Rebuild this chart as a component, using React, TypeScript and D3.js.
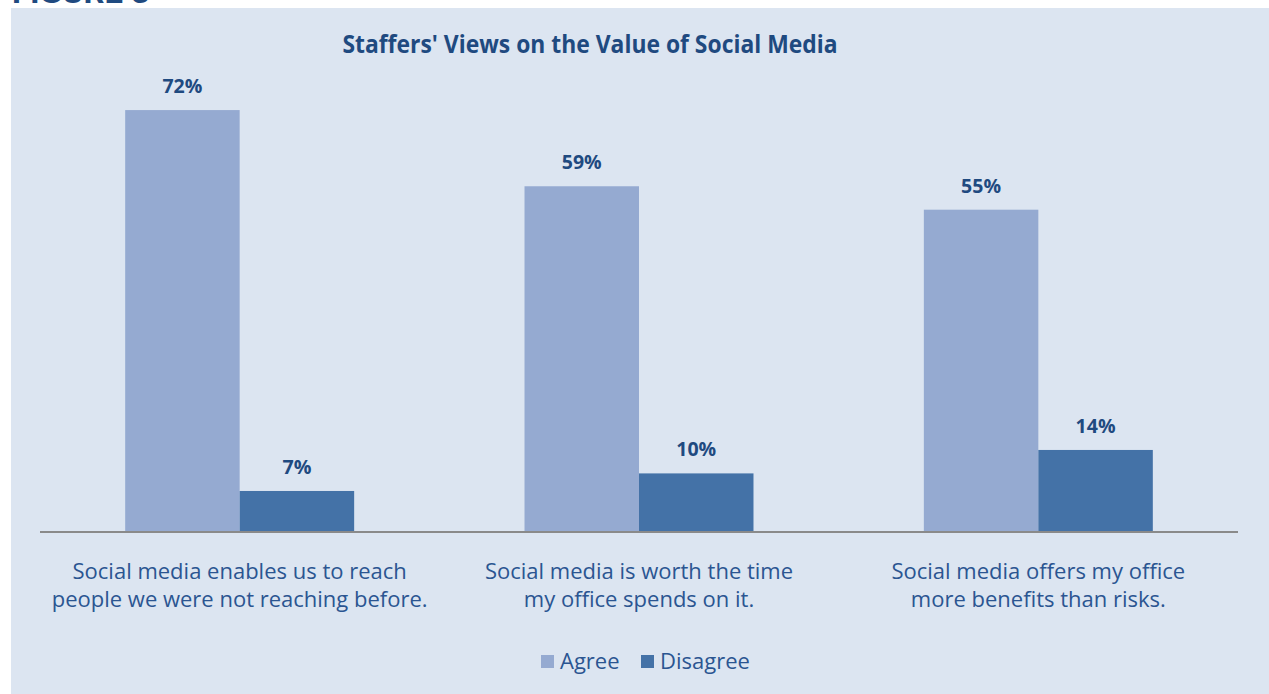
import React from "react";
import * as d3 from "d3";

const categories = [
  ["Social media enables us to reach", "people we were not reaching before."],
  ["Social media is worth the time", "my office spends on it."],
  ["Social media offers my office", "more benefits than risks."],
];
const seriesNames = ["Agree", "Disagree"];
const agreeValues = [72, 59, 55];
const disagreeValues = [7, 10, 14];
const title = "Staffers' Views on the Value of Social Media";

const W = 1269;
const H = 694;
const colors = ["#95aad1", "#4472a7"];
const textColor = "#1f4a80";
const labelColor = "#2b5591";

export default function App() {
  const x0 = d3.scaleBand<number>().domain([0, 1, 2]).range([40, 1238]).paddingInner(0).paddingOuter(0);
  const x1 = d3
    .scaleBand<number>()
    .domain([0, 1])
    .range([0, x0.bandwidth()])
    .paddingOuter(0.744)
    .paddingInner(0);
  const y = d3.scaleLinear().domain([0, 80]).range([532, 532 - 80 * 5.86]);
  const series = [agreeValues, disagreeValues];

  return (
    <svg
      width={W}
      height={H}
      style={{ position: "absolute", left: 0, top: 0, display: "block" }}
    >
      <rect x={0} y={0} width={W} height={H} fill="#ffffff" />
      <text
        x={12}
        y={3}
        fontFamily="Roboto, 'Noto Sans', sans-serif"
        fontWeight={700}
        fontSize={30}
        fill="#1f4a80"
        textLength={138}
        lengthAdjust="spacingAndGlyphs"
      >
        FIGURE 3
      </text>
      <rect x={11} y={8} width={W - 11} height={H - 8} fill="#dce5f1" />
      <text
        x={590}
        y={53}
        textAnchor="middle"
        fontFamily="'Open Sans', 'Noto Sans', sans-serif"
        fontWeight={700}
        fontSize={25}
        fill={textColor}
        textLength={495}
        lengthAdjust="spacingAndGlyphs"
      >
        {title}
      </text>
      {categories.map((cat, ci) =>
        series.map((vals, si) => {
          const bx = (x0(ci) ?? 0) + (x1(si) ?? 0);
          const bw = x1.bandwidth();
          const v = vals[ci];
          return (
            <g key={`${ci}-${si}`}>
              <rect x={bx} y={y(v)} width={bw} height={y(0) - y(v)} fill={colors[si]} />
              <text
                x={bx + bw / 2}
                y={y(v) - 17}
                textAnchor="middle"
                fontFamily="'Open Sans', 'Noto Sans', sans-serif"
                fontWeight={700}
                fontSize={20}
                fill={textColor}
                textLength={v >= 10 ? 40 : 29}
                lengthAdjust="spacingAndGlyphs"
              >
                {v}%
              </text>
            </g>
          );
        })
      )}
      <line x1={40} x2={1238} y1={532} y2={532} stroke="#8a8a8a" strokeWidth={2} />
      {categories.map((lines, ci) => {
        const cx = (x0(ci) ?? 0) + x0.bandwidth() / 2;
        return (
          <text
            key={ci}
            textAnchor="middle"
            fontFamily="'Open Sans', 'Noto Sans', sans-serif"
            fontWeight={400}
            fontSize={22}
            fill={labelColor}
          >
            {lines.map((l, li) => (
              <tspan key={li} x={cx} y={579 + li * 28}>
                {l}
              </tspan>
            ))}
          </text>
        );
      })}
      {seriesNames.map((name, i) => {
        const lx = [541, 641][i];
        return (
          <g key={name}>
            <rect x={lx} y={655} width={13} height={13} fill={colors[i]} />
            <text
              x={lx + 19}
              y={669}
              fontFamily="'Open Sans', 'Noto Sans', sans-serif"
              fontSize={22}
              fill={labelColor}
            >
              {name}
            </text>
          </g>
        );
      })}
    </svg>
  );
}
